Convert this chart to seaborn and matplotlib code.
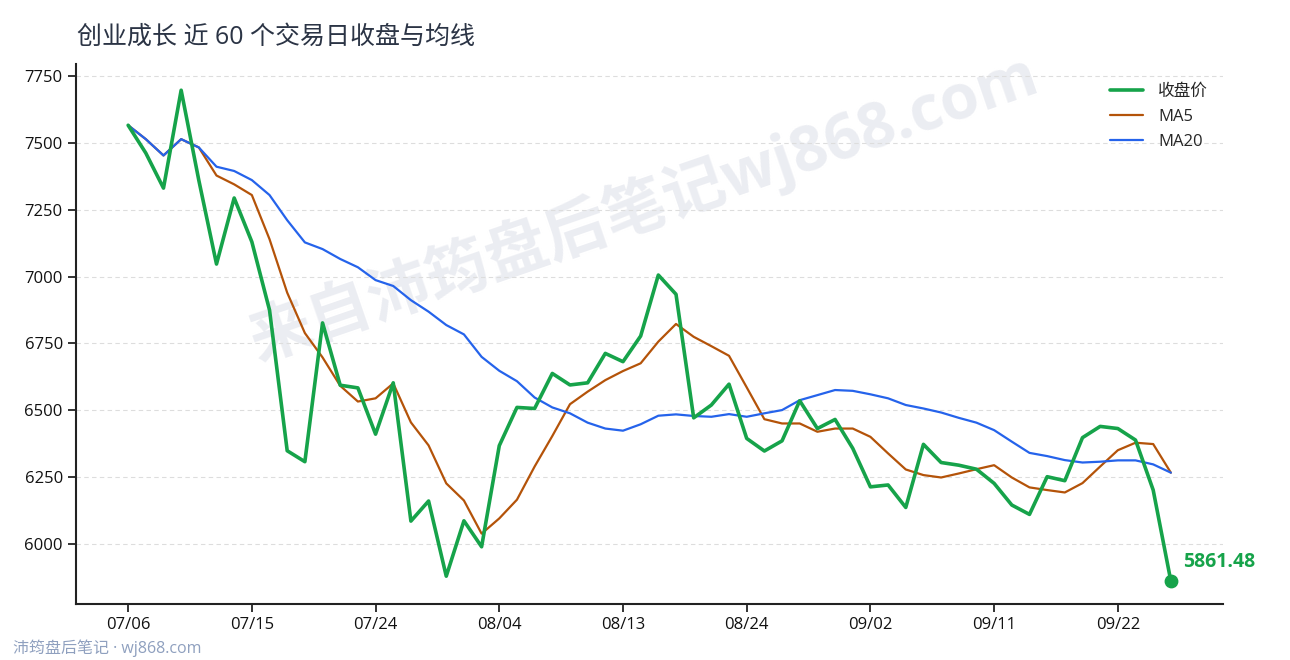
import numpy as np
import matplotlib
matplotlib.use("Agg")
import matplotlib.pyplot as plt
import seaborn as sns

# 交易日
dates = ["07/06", "07/07", "07/08", "07/09", "07/10", "07/13", "07/14", "07/15", "07/16", "07/17",
         "07/20", "07/21", "07/22", "07/23", "07/24", "07/27", "07/28", "07/29", "07/30", "07/31",
         "08/03", "08/04", "08/05", "08/06", "08/07", "08/10", "08/11", "08/12", "08/13", "08/14",
         "08/17", "08/18", "08/19", "08/20", "08/21", "08/24", "08/25", "08/26", "08/27", "08/28",
         "08/31", "09/01", "09/02", "09/03", "09/04", "09/07", "09/08", "09/09", "09/10", "09/11",
         "09/14", "09/15", "09/16", "09/17", "09/18", "09/21", "09/22", "09/23", "09/24", "09/25"]

close = [7566, 7462, 7331, 7697, 7360, 7047, 7294, 7130, 6875, 6349,
         6308, 6827, 6594, 6584, 6411, 6603, 6086, 6161, 5880, 6087,
         5990, 6368, 6511, 6507, 6638, 6595, 6603, 6713, 6682, 6778,
         7006, 6934, 6472, 6520, 6598, 6395, 6348, 6386, 6536, 6432,
         6466, 6358, 6214, 6221, 6137, 6373, 6305, 6295, 6280, 6227,
         6146, 6111, 6252, 6237, 6398, 6440, 6432, 6389, 6202, 5861.48]

ma5 = [7566, 7514, 7453, 7514, 7483, 7378, 7345, 7305, 7140, 6940,
       6789, 6698, 6592, 6533, 6545, 6601, 6455, 6369, 6227, 6163,
       6039, 6096, 6166, 6290, 6404, 6523, 6570, 6613, 6647, 6676,
       6757, 6823, 6775, 6740, 6704, 6586, 6467, 6451, 6451, 6420,
       6432, 6432, 6401, 6339, 6279, 6258, 6249, 6264, 6280, 6295,
       6249, 6212, 6202, 6193, 6228, 6290, 6351, 6379, 6374, 6267]

ma20 = [7566, 7514, 7453, 7514, 7483, 7411, 7395, 7361, 7305, 7211,
        7128, 7103, 7066, 7035, 6987, 6965, 6912, 6869, 6819, 6784,
        6700, 6648, 6609, 6548, 6511, 6489, 6454, 6432, 6424, 6448,
        6480, 6485, 6479, 6476, 6486, 6476, 6489, 6501, 6538, 6557,
        6576, 6573, 6560, 6545, 6520, 6507, 6492, 6472, 6454, 6426,
        6383, 6341, 6329, 6314, 6305, 6308, 6313, 6313, 6298, 6267]

yticks = [6000, 6250, 6500, 6750, 7000, 7250, 7500, 7750]

sns.set_style("white")
plt.rcParams["font.family"] = ["Open Sans", "Noto Sans CJK SC", "DejaVu Sans"]

idx = np.arange(len(dates))

fig = plt.figure(figsize=(12.9, 6.6), dpi=100)
ax = fig.add_axes([76 / 1290, 1 - 604 / 660, 1147 / 1290, 540 / 660])

sns.lineplot(x=idx, y=close, ax=ax, color="#16a34a", linewidth=2.6, label="收盘价", zorder=4)
sns.lineplot(x=idx, y=ma5, ax=ax, color="#b45309", linewidth=1.6, label="MA5", zorder=3)
sns.lineplot(x=idx, y=ma20, ax=ax, color="#2563eb", linewidth=1.6, label="MA20", zorder=3)

# 最新收盘点
ax.scatter([idx[-1]], [close[-1]], s=80, color="#16a34a", zorder=5)
ax.annotate(f"{close[-1]:.2f}", (idx[-1], close[-1]), xytext=(9, 14),
            textcoords="offset points", color="#16a34a", fontsize=14,
            fontweight="bold", va="center", ha="left")

ax.set_xlim(-2.95, 61.95)
ax.set_ylim(5776, 7795)
ax.set_xticks(idx[::7])
ax.set_xticklabels(dates[::7])
ax.set_yticks(yticks)
ax.set_xlabel("")
ax.set_ylabel("")

ax.grid(axis="y", color="#dddddd", linestyle=(0, (4, 3)), linewidth=0.8)
ax.grid(axis="x", visible=False)
for side in ["top", "right"]:
    ax.spines[side].set_visible(False)
for side in ["left", "bottom"]:
    ax.spines[side].set_color("#222222")
    ax.spines[side].set_linewidth(1.5)
ax.tick_params(axis="both", labelsize=12, colors="#111111", length=6, width=1.2,
               direction="out", left=True, bottom=True)

leg = ax.legend(loc="upper right", frameon=False, fontsize=12, handlelength=2.0,
                borderaxespad=0.3, labelspacing=0.55, handletextpad=0.9,
                bbox_to_anchor=(0.997, 0.985))

# 水印
ax.text(0.495, 0.735, "来自沛筠盘后笔记wj868.com", transform=ax.transAxes,
        rotation=19, fontsize=45, fontweight="bold", color="#e8eaf0",
        alpha=0.85, ha="center", va="center", zorder=0.5)

fig.text(77 / 1290, 1 - 37 / 660, "创业成长 近 60 个交易日收盘与均线", fontsize=18,
         color="#2b3445", ha="left", va="center")
fig.text(13 / 1290, 1 - 648 / 660, "沛筠盘后笔记 · wj868.com", fontsize=11.5,
         color="#8fa0bf", ha="left", va="center")

fig.savefig("out.png", dpi=100)
